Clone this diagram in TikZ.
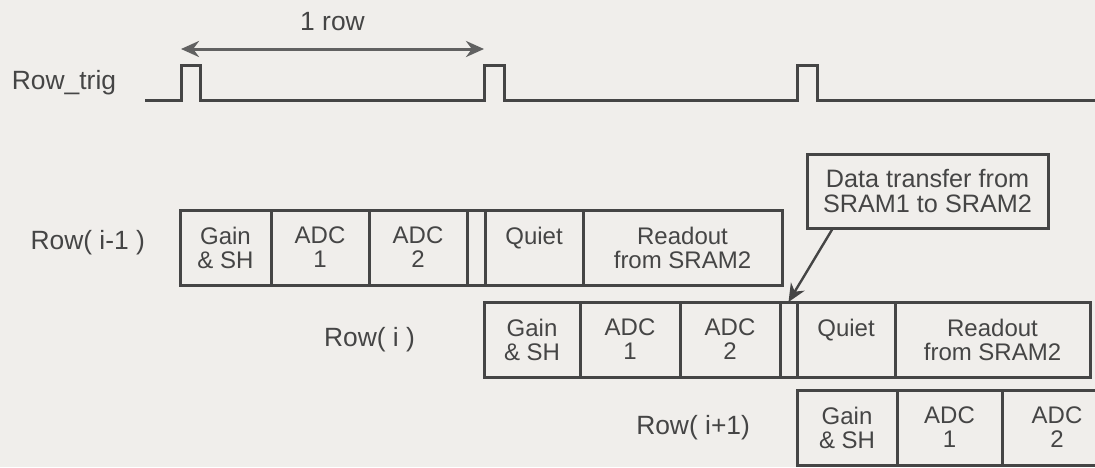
\documentclass[tikz,border=0pt]{standalone}
\usepackage{fontspec}
\setmainfont{Liberation Sans}
\usepackage{xcolor}
\usepackage{tikz}
\usetikzlibrary{positioning}
\usetikzlibrary{arrows.meta}
\definecolor{ink}{HTML}{454545}
\definecolor{paper}{HTML}{F0EEEB}

\begin{document}
\begin{tikzpicture}[
				x=0.5pt, y=-0.5pt,
				node distance=0pt,
				every node/.style={text=ink, font=\fontsize{13.2}{13.2}\selectfont},
				cell/.style={rectangle, draw=ink, line width=1.5pt, outer sep=0pt, inner sep=0pt, minimum height=37.5pt, align=center, font=\fontsize{12}{12}\selectfont},
				signal/.style={draw=ink, line width=1.5pt},
				span/.style={{Stealth[length=9pt,width=8pt]}-{Stealth[length=9pt,width=8pt]}, draw=ink!85, line width=1.5pt},
				pointer/.style={-{Stealth[length=9pt,width=8pt]}, draw=ink, line width=1.2pt}
			]

			\useasboundingbox[fill=paper] (0,0) rectangle (1095,467);

			\coordinate (p1) at (181,100);
			\coordinate (p2) at (484,100);
			\coordinate (p3) at (797,100);
			\node (trig) at (64,83) {Row\_trig};
			\draw[signal] (145,100) -- (p1) -- ++(0,-35) -- ++(19,0) -- ++(0,35) -- (p2) -- ++(0,-35) -- ++(20,0) -- ++(0,35)
				-- (p3) -- ++(0,-35) -- ++(20,0) -- ++(0,35) -- (1095,100);
			\draw[span] ([yshift=25.5pt]p1) -- ([yshift=25.5pt]p2) node[midway, above=5pt] (onerow) {1 row};

			\node[cell, anchor=north west, minimum width=45.5pt] (a1) at (180,210) {Gain\\\& SH};
			\node[cell, minimum width=49pt, right=of a1] (a2) {ADC\\1};
			\node[cell, minimum width=49pt, right=of a2] (a3) {ADC\\2};
			\node[cell, minimum width=9pt, right=of a3] (a4) {};
			\node[cell, minimum width=49pt, right=of a4] (a5) {Quiet\\~};
			\node[cell, minimum width=99.5pt, right=of a5] (a6) {Readout\\from SRAM2};
			\node[left=14pt of a1, yshift=2.5pt] (lprev) {Row( i-1 )};

			\node[cell, anchor=north west, minimum width=48pt] (b1) at (484,302) {Gain\\\& SH};
			\node[cell, minimum width=50pt, right=of b1] (b2) {ADC\\1};
			\node[cell, minimum width=50pt, right=of b2] (b3) {ADC\\2};
			\node[cell, minimum width=8.5pt, right=of b3] (b4) {};
			\node[cell, minimum width=49pt, right=of b4] (b5) {Quiet\\~};
			\node[cell, minimum width=97.5pt, right=of b5] (b6) {Readout\\from SRAM2};
			\node[left=31pt of b1] (lcur) {Row( i )};

			\node[cell, anchor=north west, minimum width=50pt] (c1) at (797,390) {Gain\\\& SH};
			\node[cell, minimum width=52.5pt, right=of c1] (c2) {ADC\\1};
			\node[cell, minimum width=55pt, right=of c2, text width=46pt] (c3) {ADC\\2};
			\node[left=20pt of c1] (lnext) {Row( i+1)};

			\node[cell, minimum width=120.5pt, minimum height=37pt, font=\fontsize{12.6}{12.6}\selectfont] (xfer) at (927.5,191) {Data transfer from\\SRAM1 to SRAM2};
			\draw[pointer] ([xshift=13pt]xfer.south west) -- (b4.north);

		\end{tikzpicture}
\end{document}
